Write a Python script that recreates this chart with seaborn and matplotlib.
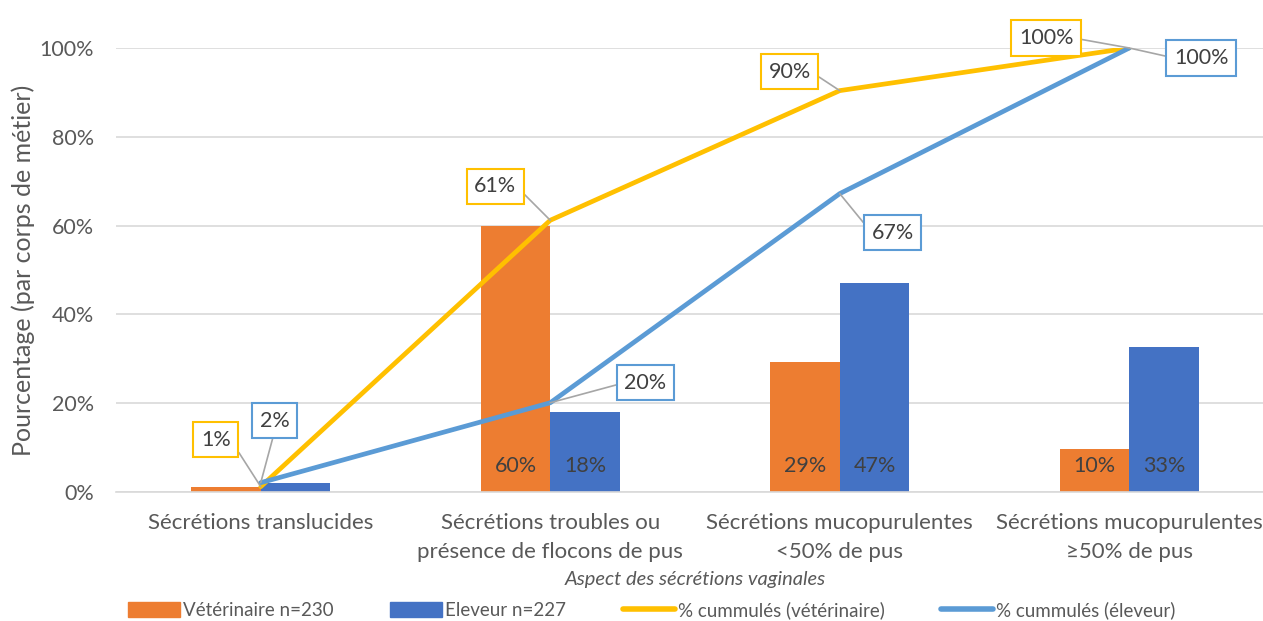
import numpy as np
import pandas as pd
import matplotlib
matplotlib.use('Agg')
import matplotlib.pyplot as plt
import seaborn as sns
from matplotlib.patches import Patch
from matplotlib.lines import Line2D

# Données
categories = ['Sécrétions translucides',
              'Sécrétions troubles ou\nprésence de flocons de pus',
              'Sécrétions mucopurulentes\n<50% de pus',
              'Sécrétions mucopurulentes\n≥50% de pus']
veto = [1.2, 60.0, 29.2, 9.6]
eleveur = [2.1, 18.0, 47.1, 32.6]
cumul_veto = [1.2, 61.2, 90.4, 100.0]
cumul_eleveur = [2.1, 20.1, 67.2, 100.0]
labels_veto = ['1%', '60%', '29%', '10%']
labels_eleveur = ['2%', '18%', '47%', '33%']
labels_cumul_veto = ['1%', '61%', '90%', '100%']
labels_cumul_eleveur = ['2%', '20%', '67%', '100%']
noms = ['Vétérinaire n=230', 'Eleveur n=227',
        '% cummulés (vétérinaire)', '% cummulés (éleveur)']

ORANGE = '#ED7D31'
BLEU = '#4472C4'
JAUNE = '#FFC000'
BLEU_CLAIR = '#5B9BD5'
GRIS_TXT = '#595959'
GRIS_FONCE = '#404040'

sns.set_style('white')
plt.rcParams['font.family'] = ['Lato', 'DejaVu Sans']

df = pd.DataFrame({
    'categorie': categories * 2,
    'pct': veto + eleveur,
    'groupe': [noms[0]] * 4 + [noms[1]] * 4,
})

fig = plt.figure(figsize=(12.63, 6.21), dpi=100)
ax = fig.add_axes([116 / 1263, 129 / 621, 1158 / 1263, 444 / 621])

sns.barplot(data=df, x='categorie', y='pct', hue='groupe',
            palette=[ORANGE, BLEU], width=0.48, gap=0, saturation=1,
            legend=False, ax=ax, zorder=2, linewidth=0)

x = np.arange(len(categories))
sns.lineplot(x=x, y=cumul_veto, color=JAUNE, lw=3.4, ax=ax, zorder=4)
sns.lineplot(x=x, y=cumul_eleveur, color=BLEU_CLAIR, lw=3.4, ax=ax, zorder=4)

# étiquettes dans les barres
patches = sorted(ax.patches, key=lambda p: p.get_x())
textes = []
for i in range(4):
    textes += [labels_veto[i], labels_eleveur[i]]
for p, t in zip(patches, textes):
    if p.get_height() < 5:
        continue
    ax.text(p.get_x() + p.get_width() / 2, 5.8, t, ha='center', va='center',
            fontsize=15.5, color=GRIS_FONCE, zorder=5)

# étiquettes des lignes (position des boîtes en pixels)
decal_veto = [(-45, 47), (-55, 34), (-50, 19), (-83, 10)]
decal_eleveur = [(14, 62), (95, 20), (53, -39), (72, -10)]
rel_veto = [(1, 0.5), (1, 0.5), (1, 0.5), (1, 0.5)]
rel_eleveur = [(0.5, 0), (0, 0.5), (0, 0.5), (0, 0.5)]

def etiquette(xi, yi, txt, off, rel, couleur):
    ax.annotate(txt, xy=(xi, yi), xytext=off, textcoords='offset pixels',
                ha='center', va='center', fontsize=15.5, color=GRIS_FONCE,
                annotation_clip=False, zorder=6,
                bbox=dict(boxstyle='square,pad=0.35', fc='white', ec=couleur, lw=1.5),
                arrowprops=dict(arrowstyle='-', color='#A6A6A6', lw=1.2,
                                shrinkA=0, shrinkB=0, relpos=rel))

for i in range(4):
    etiquette(x[i], cumul_veto[i], labels_cumul_veto[i], decal_veto[i], rel_veto[i], JAUNE)
    etiquette(x[i], cumul_eleveur[i], labels_cumul_eleveur[i], decal_eleveur[i], rel_eleveur[i], BLEU_CLAIR)

ax.set_xlim(-0.5, 3.5)
ax.set_ylim(0, 100)
ax.set_yticks([0, 20, 40, 60, 80, 100])
ax.set_yticklabels([f'{v}%' for v in range(0, 101, 20)])
ax.grid(axis='y', color='#D9D9D9', lw=1.2)
ax.set_axisbelow(True)
for s in ['top', 'right', 'left']:
    ax.spines[s].set_visible(False)
ax.spines['bottom'].set_color('#D9D9D9')
ax.spines['bottom'].set_linewidth(1.2)
ax.tick_params(axis='y', length=0, pad=16, labelsize=15.5, labelcolor=GRIS_TXT)
ax.tick_params(axis='x', length=0, pad=15, labelsize=16, labelcolor=GRIS_TXT)
ax.set_xticks(x)
ax.set_xticklabels(categories, linespacing=1.55)
ax.set_xlabel('Aspect des sécrétions vaginales', fontsize=14.5, style='italic',
              color=GRIS_TXT, labelpad=7)
ax.set_ylabel('Pourcentage (par corps de métier)', fontsize=18, color=GRIS_TXT,
              labelpad=3)

handles = [Patch(color=ORANGE), Patch(color=BLEU),
           Line2D([], [], color=JAUNE, lw=4), Line2D([], [], color=BLEU_CLAIR, lw=4)]
fig.legend(handles, noms, loc='lower center', bbox_to_anchor=(0.516, -0.024),
           ncol=4, frameon=False, fontsize=13.5, labelcolor=GRIS_TXT,
           handlelength=2.8, handleheight=0.8, handletextpad=0.15, columnspacing=3.0)

fig.savefig('out.png', dpi=100)
